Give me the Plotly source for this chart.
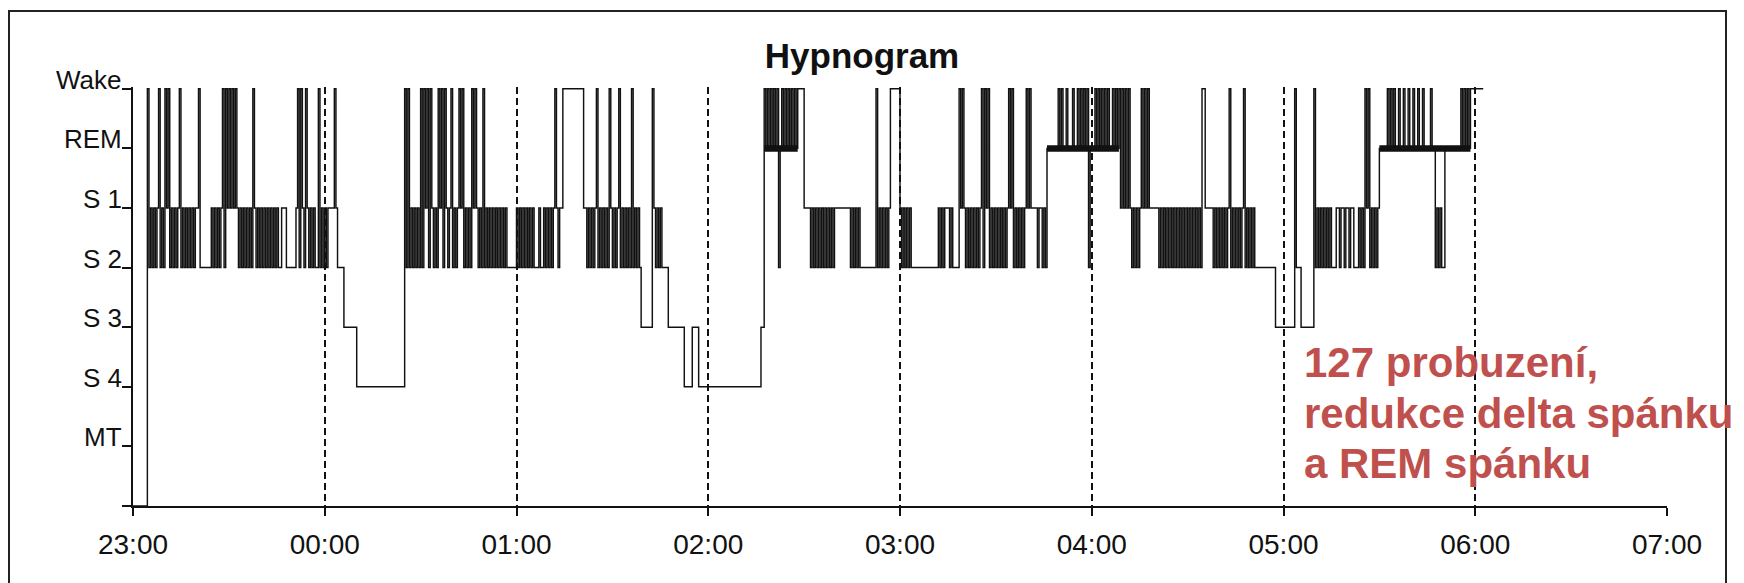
import plotly.graph_objects as go
import pandas as pd

# ---------------- data ----------------
# stage codes per 30-s epoch: W=Wake, R=REM, 1=S1, 2=S2, 3=S3, 4=S4, M=MT, 0=no data
stage_names = ["", "MT", "S 4", "S 3", "S 2", "S 1", "REM", "Wake"]
stage_value = {"0": 0, "M": 1, "4": 2, "3": 3, "2": 4, "1": 5, "R": 6, "W": 7}

# start of each block, minutes after 23:00
seg_start = [
    0, 4.5, 5, 9, 17, 21.5, 24.5, 28, 33, 37.5, 38.5, 46, 51, 55, 57.5, 59, 62, 64, 66, 70,
    85, 86.5, 90, 94, 95.5, 98, 99.5, 100, 102, 104, 106, 108, 109.5, 110, 117, 120, 126,
    129.5, 132, 132.5, 134.5, 141, 142, 159, 162.5, 163, 165.5, 167.5, 172.5, 175, 177,
    196.5, 197.5, 208, 210, 212, 219.5, 224.5, 228, 232.5, 233, 237, 240, 244, 252, 254,
    255.5, 256.5, 258.5, 260.5, 265.5, 268.5, 274, 276, 279.5, 281.5, 283, 285.5, 286,
    308.5, 310, 312.5, 315.5, 318.5, 321, 326, 327.5, 334.5, 335.5, 338, 343, 343.5, 347.5,
    348, 351.5, 357.5, 363.5, 364, 365.5, 369.5, 370, 372, 375.5, 383, 385.5, 387, 390,
    418.5,
]
seg_codes = [
    "000000000", "W", "212121W2", "12W1W212121W2121", "2121211W2", "222222", "1212121",
    "W2W1W1W1W1", "212121212", "W1", "212121212121212", "2111222222", "1W2W12W1", "21212",
    "2W2", "121211", "11W1", "2222", "33333333", "444444444444444444444444444444",
    "W2W", "2121212", "W2W1W2W1", "212", "W1W2W", "121", "W", "2121", "W1W2", "1212",
    "W1W1", "212", "W", "21212121212121", "222222", "121212121212", "2212212",
    "12121", "W", "1211", "WWWWWWWWWWWWW", "11", "212121W2121212W12121W2121212W21212",
    "3333333", "W", "12121", "2222", "3333333333", "44444", "3333",
    "444444444444444444444444444444444444444",
    "33", "WRWRWRWRW2RWRWRWRWRWR", "WWWW", "1111", "212121212121212", "1111111111",
    "2121212", "222222222", "W", "21212121", "WWWWWW", "12121212", "2222222222222222",
    "1212", "111", "21", "2222", "W1W1", "2121212121", "W2W1W2", "12121212121", "W1W2",
    "1212121", "W1W1", "111", "21121", "2",
    "RRRRRRRWRWRRWRRRWRRWRWRWRW2RRRWRWRWRWRWRRWRWR",
    "W1W", "1W1W1", "212121", "W1W1W1", "11111", "2121212121", "212", "12121212121212",
    "WW", "11111", "2121212121", "W", "21212121", "W", "2121212", "222222222222",
    "333333333333", "W", "222", "33333333", "W", "2121", "2121212", "221121121121122",
    "21212", "W1W", "212121",
    "RRRRRWRWRWRRWRRWRRWRRWRRWRRWRRRRWRR212122RRRRRRRRRRWRWRWR",
    "WWWWWWWW",
]
record_end = 422.5

# REM periods (thick bars), minutes after 23:00
rem_start = [197.5, 286, 390]
rem_end = [208, 308.5, 418.5]

hour_ticks = ["23:00", "00:00", "01:00", "02:00", "03:00", "04:00", "05:00", "06:00", "07:00"]

# ---------------- build step series ----------------
base = pd.Timestamp("2000-01-01 23:00")


def t(m):
    return base + pd.Timedelta(minutes=m)


xs, ys = [], []
for i, (s, codes) in enumerate(zip(seg_start, seg_codes)):
    nxt = seg_start[i + 1] if i + 1 < len(seg_start) else record_end
    for j, c in enumerate(codes):
        m = s + 0.5 * j
        if m >= nxt - 1e-9:
            break
        xs.append(t(m))
        ys.append(stage_value[c])
xs.append(t(record_end))
ys.append(ys[-1])

rx, ry = [], []
for a, b in zip(rem_start, rem_end):
    rx += [t(a), t(b), None]
    ry += [6, 6, None]

FONT = "Liberation Sans, Arial, sans-serif"
INK = "#111"

fig = go.Figure()
fig.add_trace(go.Scatter(x=xs, y=ys, mode="lines", line=dict(shape="hv", color=INK, width=1.45),
                         hoverinfo="skip", showlegend=False))
fig.add_trace(go.Scatter(x=rx, y=ry, mode="lines", line=dict(color=INK, width=6.5),
                         hoverinfo="skip", showlegend=False))

W, H = 1744, 583
ML, MR, MT_, MB = 133, 77, 87, 77
PW, PH = W - ML - MR, H - MT_ - MB


def px_x(px):
    return (px - ML) / PW


def px_y(py):
    return (H - MB - py) / PH


fig.update_layout(
    width=W, height=H,
    margin=dict(l=ML, r=MR, t=MT_, b=MB),
    paper_bgcolor="white", plot_bgcolor="white",
    font=dict(family=FONT, color=INK),
    title=dict(text="<b>Hypnogram</b>", x=862 / W, xanchor="center", y=1 - 56 / H, yanchor="middle",
               xref="container", yref="container", font=dict(size=35, family=FONT, color=INK)),
    xaxis=dict(
        type="date",
        range=[t(0), t(480)],
        tickvals=[t(60 * k) for k in range(9)],
        ticktext=hour_ticks,
        showline=True, linecolor=INK, linewidth=2,
        ticks="outside", ticklen=8, tickwidth=1.5, tickcolor=INK,
        ticklabelstandoff=4,
        showgrid=True, gridcolor=INK, gridwidth=1.8, griddash="7px,4px",
        tickfont=dict(size=28, family=FONT, color=INK),
        zeroline=False,
    ),
    yaxis=dict(
        range=[0, 7.03],
        tickvals=list(range(8)),
        showticklabels=False,
        showline=True, linecolor=INK, linewidth=2,
        ticks="outside", ticklen=9, tickwidth=1.5, tickcolor=INK,
        showgrid=False, zeroline=False,
    ),
)

# stage labels, sitting slightly above their tick marks as in the scan
for k, name in enumerate(stage_names):
    if name:
        fig.add_annotation(text=name, xref="paper", yref="y", x=px_x(124), y=k, yshift=9,
                           xanchor="right", yanchor="middle", showarrow=False,
                           font=dict(size=26, family=FONT, color=INK))

# outer frame of the scanned figure
fig.add_shape(type="rect", xref="paper", yref="paper",
              x0=px_x(9), x1=px_x(1726), y0=px_y(700), y1=px_y(11),
              line=dict(color="#222", width=2), fillcolor="rgba(0,0,0,0)", layer="below")

red_lines = ["127 probuzení,", "redukce delta spánku", "a REM spánku"]
red_centers = [362, 413, 463]
for txt, cy in zip(red_lines, red_centers):
    fig.add_annotation(text="<b>%s</b>" % txt, xref="paper", yref="paper", x=px_x(1302), y=px_y(cy),
                       xanchor="left", yanchor="middle", showarrow=False,
                       font=dict(size=42, family=FONT, color="#C0504D"))

fig.write_html("out.html")
